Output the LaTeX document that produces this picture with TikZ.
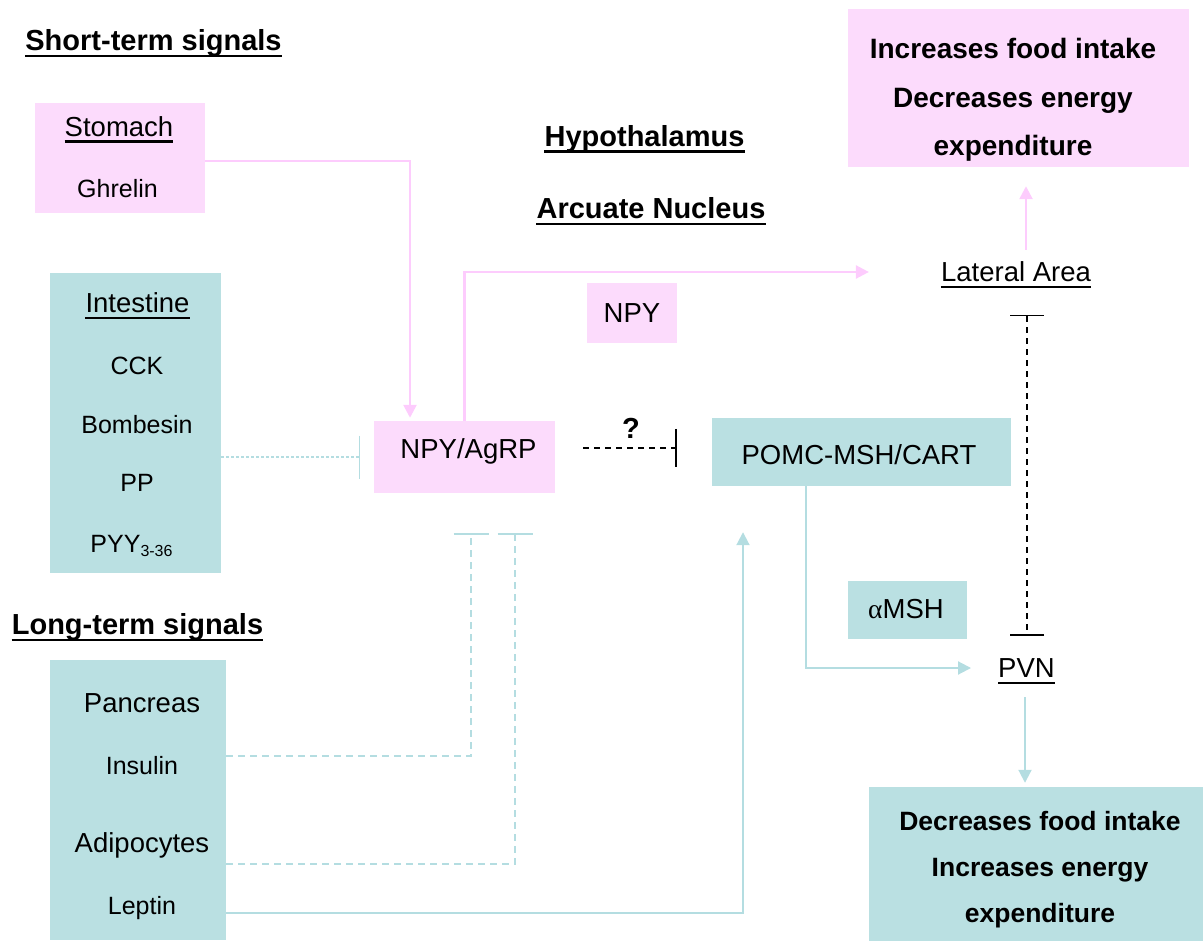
\documentclass[tikz,border=0pt]{standalone}
\usepackage{fontspec}
\setmainfont{Liberation Sans}
\newfontfamily\greekfont{Liberation Serif}
\usetikzlibrary{arrows.meta}
\definecolor{pinkfill}{RGB}{252,219,252}
\definecolor{pinkline}{RGB}{253,204,253}
\definecolor{tealfill}{RGB}{186,224,226}
\definecolor{tealline}{RGB}{180,221,225}
\begin{document}
\begin{tikzpicture}[x=1pt,y=-1pt,
  txt/.style={inner sep=0pt,text depth=0pt,text height=19.7pt,font=\fontsize{27.5}{33}\selectfont},
  small/.style={txt,text height=17.9pt,font=\fontsize{25}{30}\selectfont},
  head/.style={txt,text height=20.8pt,font=\fontsize{29}{35}\selectfont\bfseries},
  topline/.style={txt,text height=20pt,font=\fontsize{28}{34}\selectfont\bfseries},
  botline/.style={txt,text height=19pt,font=\fontsize{26.5}{32}\selectfont\bfseries},
  pinkbox/.style={fill=pinkfill,inner sep=0pt},
  tealbox/.style={fill=tealfill,inner sep=0pt},
  pinkarrow/.style={draw=pinkline,line width=2.5pt,-{Triangle[length=13pt,width=13pt]}},
  tealarrow/.style={draw=tealline,line width=2pt,-{Triangle[length=13pt,width=13pt]}},
  tealblock/.style={draw=tealline,line width=1.6pt,dash pattern=on 7pt off 5pt,-{Bar[width=35pt]}},
  tealdot/.style={draw=tealline,line width=1.2pt,dash pattern=on 3pt off 2pt,-{Bar[width=43pt]}},
  blackblock/.style={draw=black,line width=1.5pt,dash pattern=on 6pt off 5pt}]
  \useasboundingbox (0,0) rectangle (1203,941);
  \node[pinkbox,minimum width=170,minimum height=110] (stomachbox) at (120,158) {};
  \node[tealbox,minimum width=171,minimum height=300] (intbox) at (135.5,423) {};
  \node[tealbox,minimum width=176,minimum height=280] (panbox) at (138,800) {};
  \node[pinkbox,minimum width=341,minimum height=158] (topbox) at (1018.5,88) {};
  \node[tealbox,minimum width=334,minimum height=154] (botbox) at (1036,864) {};
  \node[pinkbox,minimum width=90,minimum height=60] (npybox) at (632,313) {};
  \node[pinkbox,minimum width=181,minimum height=72] (npyagrp) at (464.5,457) {};
  \node[tealbox,minimum width=299,minimum height=68] (pomc) at (861.5,452) {};
  \node[tealbox,minimum width=119,minimum height=58] (amshbox) at (907.5,610) {};

  \node[head] (short) at (153.5,40.5) {Short-term signals};
  \node[head] (long) at (137.5,624) {Long-term signals};
  \node[head] (hypo) at (644.5,136) {Hypothalamus};
  \node[head] (arc) at (651,208.5) {Arcuate Nucleus};
  \node[txt] (stomach) at (119,126.5) {Stomach};
  \node[small] (ghrelin) at (117.5,189) {Ghrelin};
  \node[txt] (intestine) at (137.5,303) {Intestine};
  \foreach \n/\y/\t in {cck/366/CCK,bomb/425/Bombesin,pp/483/PP}
    \node[small] (\n) at (137,\y) {\t};
  \node[small] (pyy) at (131.5,544) {PYY\raisebox{-4pt}{\fontsize{16}{16}\selectfont 3-36}};
  \foreach \n/\y/\t in {pancreas/703/Pancreas,adipo/843/Adipocytes}
    \node[txt] (\n) at (142,\y) {\t};
  \foreach \n/\y/\t in {insulin/766/Insulin,leptin/906/Leptin}
    \node[small] (\n) at (142,\y) {\t};
  \node[txt] (npytxt) at (632,313) {NPY};
  \node[txt] (npyagrptxt) at (468.5,449) {NPY/AgRP};
  \node[txt] (pomctxt) at (859,455) {POMC-MSH/CART};
  \node[txt] (amsh) at (906,609) {{\greekfont α}MSH};
  \node[txt] (lateral) at (1016,272) {Lateral Area};
  \node[txt] (pvn) at (1026.5,668) {PVN};
  \node[head] (qmark) at (631,428) {?};
  \foreach \i/\y/\t in {1/49/Increases food intake,2/97.5/Decreases energy,3/145.5/expenditure}
    \node[topline] (up\i) at (1013,\y) {\t};
  \foreach \i/\y/\t in {1/821/Decreases food intake,2/867/Increases energy,3/913/expenditure}
    \node[botline] (down\i) at (1040,\y) {\t};
  \foreach \n in {short,long,hypo,arc,stomach,intestine,lateral,pvn}
    \draw[line width=2.2pt] ([yshift=-5pt]\n.south west) -- ([yshift=-5pt]\n.south east);

  \coordinate (latup) at (1026,250);
  \coordinate (latdn) at (1027,315);
  \coordinate (pvndn) at (1025,697);
  \draw[pinkarrow,shorten >=3pt] ([yshift=-3]stomachbox.east) -| ([xshift=-54.5]npyagrp.north);
  \draw[pinkarrow] (npyagrp.north) |- ([xshift=-72]lateral.west);
  \draw[pinkarrow,shorten >=19pt] (latup) -- (latup |- topbox.south);
  \draw[tealdot] ([yshift=-34]intbox.east) -- ([xshift=-14]npyagrp.west);
  \draw[blackblock,-{Bar[width=38pt]}] ([shift={(28pt,9pt)}]npyagrp.east) -- ([shift={(-35pt,4pt)}]pomc.west);
  \draw[blackblock,{Bar[width=34pt]}-{Bar[width=34pt]},shorten >=22pt] (latdn) -- (latdn |- pvn.north);
  \draw[tealarrow] ([xshift=-56]pomc.south) |- ([xshift=-27]pvn.west);
  \draw[tealarrow,shorten >=4pt] (pvndn) -- (pvndn |- botbox.north);
  \draw[tealblock] ([yshift=44]panbox.east) -| ([xshift=6.5,yshift=-40]npyagrp.south);
  \draw[tealblock] ([yshift=-64]panbox.east) -| ([xshift=50.5,yshift=-40]npyagrp.south);
  \draw[tealarrow] ([yshift=-113]panbox.east) -| ([xshift=-118.5,yshift=-46]pomc.south);
\end{tikzpicture}
\end{document}
